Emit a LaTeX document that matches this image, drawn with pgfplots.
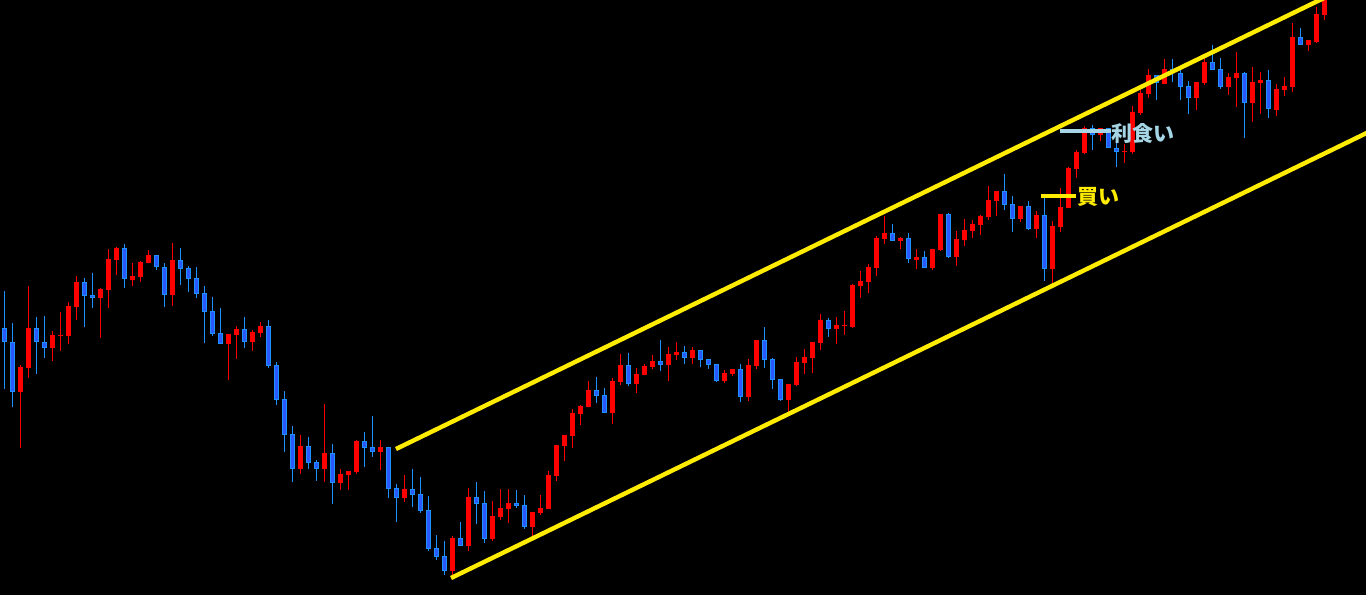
\documentclass[border=0pt]{standalone}
\usepackage{pgfplots}
\pgfplotsset{compat=1.18}
\usepackage{pgfplotstable}
\usepackage{fontspec}
\newfontfamily\cjk{Noto Sans CJK JP}
\definecolor{upred}{RGB}{255,0,0}
\definecolor{dnedge}{RGB}{30,144,255}
\definecolor{dnfill}{RGB}{40,90,255}
\definecolor{chan}{RGB}{255,236,0}
\definecolor{tp}{RGB}{166,214,230}
% columns: bar index, wick top, body top, body bottom, wick bottom (screen units, y grows downward)
\pgfplotstableread{
i wt bt bb wb
2 365 367 391.7 447.7
3 286 328.3 367.7 377.7
6 331 335 347.7 360.7
7 312 334.7 335.7 350.7
8 302 306 335.7 343.7
9 276 282 306.7 319.7
12 288 289 297.7 337.7
13 249 259 289.7 307.7
14 247 248 259.7 274.7
16 263 276 279.7 285.7
17 261 262 276.7 281.7
18 250 255 262.7 262.7
21 243 260 294.7 305.7
28 334 334 343.7 379.7
29 326 329 334.7 359
31 330 332 341.7 351
32 322 326 332.7 336.7
37 435 446 468.7 473.7
40 404 453 468.7 481.7
42 469 473.7 482.7 489.7
43 470.7 470.7 474.7 489.7
44 440 441 471.7 473.7
47 440 447 451.7 469.7
50 475 489 497.7 501.7
56 536 538 570.7 576.7
58 488 497 545.7 551
61 501 516 538.7 540.7
62 489 508 517 519.7
63 489 503 509 523
66 512 512 526.7 536.7
67 495 508 513 515
68 471 475 509 509
69 445 445 475.7 481
70 435 435 445.7 461
71 409 413 436 447.7
72 405 406 413.7 425
73 381 390 406.7 406.7
76 378 381 412.7 423.7
77 354 365 381.7 385
79 368 374 383.7 393
80 364 366 374.7 374.7
81 355 361 366.7 369
83 347 354 364.7 381
84 342 352 355 360
86 347 350 357.7 363.7
90 370 373 380.7 383
91 369 369 374 376
93 359 365 396.7 401
94 340 340 366 369
98 384 384 399.7 412.7
99 357 362 385 386
100 349 357 363 374
101 342 342 358 373
102 314 320 343 349.7
104 317 325 328.7 343.7
105 311 325 325.7 335
106 284 285 326.7 327.7
107 271 281 286 297.7
108 264 267 282 293
109 236 238 268 276
110 216 233 239 244
112 237 238 241 249
114 249 257 259.7 269
116 249 249 267.7 269.7
117 214 214 250 251
119 231 239 257 266
120 219 230 240 246
121 220 224 231 238
122 215 216 225 235
123 186 200 217 220
124 191 191 201 216
127 206 206 218.7 222
129 211 215 229 238
131 221 226 268.7 283.7
132 188 207 227 232
133 167 167.7 207.7 207.7
134 150 151.7 169 177.7
135 126 128 152.7 154
137 128 128 135 141
140 144 151 152.3 163
141 106 112 152 154
142 85.3 92.7 112.7 114.7
143 69 75 94 98
145 59 69 83.7 83.7
149 82 82 97.7 109.7
150 58 62 83 85
153 73 77 86.7 95
154 52 73 77.7 107
156 67 82 102.7 121.7
157 72 80 82.7 113.7
159 84 89 109.7 115.7
160 77 86 90 96
161 23 37 87 92
163 40 40 44.7 50.7
164 7 14 41.7 42.7
165 -5 -5 15 20
}\upbars
\pgfplotstableread{
i wt bt bb wb
0 291 328.3 342.3 389
1 323 342.3 391.7 407
4 317 328.3 342.3 373.7
5 316 342.3 347.7 357.7
10 278 282 295.7 326.7
11 273 295.3 297.7 307.7
15 244 248 279.3 287.7
19 255 255 267.3 269.7
20 263 267 294.7 306.7
22 248 260 268.7 284.7
23 266 268 278.7 291.7
24 267 278 293.7 297.7
25 286 293 311.7 342.7
26 297 311 333.7 335.7
27 308 333 343.7 343.7
30 317 329.3 341.7 347.7
33 320 326 365.7 367.7
34 362 365 399.7 404.7
35 391 399 434.7 451.7
36 426 434 468.7 481.7
38 437 446 462.7 468.7
39 460 462 468.7 480.7
41 444 453 482.7 503.7
45 432 441 447.7 466.7
46 416 447 451.7 456.7
48 446.7 447 488.7 497.7
49 483.7 488 497.7 521.7
51 469 489 494.7 506.7
52 477 494 510.7 512.7
53 496 510 548.7 550.7
54 535 548 556.7 559.7
55 541 556 570.7 575
57 522 538 545.7 545.7
59 482 497 503.7 524
60 491 503 538.7 542.7
64 490 503 505.7 507.7
65 495 505 526.7 528.7
74 377 390 395.7 403
75 388 395 412.7 412.7
78 353 365 383.7 385.7
82 340 361 364.7 371
85 346 352 357.7 363.7
87 350 350 359.7 366.7
88 359 359 364.7 368.7
89 363.7 364 380.7 382
92 364 369 396.7 401.7
95 327 340 359.7 367.7
96 358 359 379.7 389
97 379 379 399.7 400.7
103 318 320 328.7 336.7
111 224 233 240.7 240.7
113 233 238 259.3 263.3
115 251 257 267.7 267.7
118 213 214 257 258
125 174 191 204.7 209.7
126 196 204 218.7 231.7
128 201 206 229 230
130 196 215 268.7 280.7
136 125 128 135 150
138 128 128 148.3 148.3
139 143.3 148.3 152.3 167.3
144 75 75.3 83.3 100
146 59 69 73 82
147 70 73 86.7 99.7
148 81 86 97.7 113.7
151 45 62 69.7 70
152 58 69 86.7 88.7
155 72 73 102.7 137.7
158 70 80 109.3 117.7
162 28 37 44.7 44.7
}\downbars
\begin{document}
\begin{tikzpicture}
\begin{axis}[
  scale only axis, width=1366pt, height=595pt,
  xmin=-0.5375, xmax=170.21, ymin=0, ymax=595, y dir=reverse,
  axis lines=none, ticks=none,
  axis background/.style={fill=black},
  clip=true,
]
% wicks
\addplot[upred, line width=1.1pt, mark=none, forget plot,
  quiver={u=0, v=\thisrow{wb}-\thisrow{wt}}]
  table[x=i, y=wt] {\upbars};
\addplot[dnedge, line width=1.1pt, mark=none, forget plot,
  quiver={u=0, v=\thisrow{wb}-\thisrow{wt}}]
  table[x=i, y=wt] {\downbars};
% bodies
\addplot[upred, line width=4.8pt, mark=none, forget plot,
  quiver={u=0, v={max(\thisrow{bb}-\thisrow{bt},1.2)}}]
  table[x=i, y expr={(\thisrow{bt}+\thisrow{bb})/2-max(\thisrow{bb}-\thisrow{bt},1.2)/2}] {\upbars};
\addplot[dnedge, line width=4.8pt, mark=none, forget plot,
  quiver={u=0, v={max(\thisrow{bb}-\thisrow{bt},1.2)}}]
  table[x=i, y expr={(\thisrow{bt}+\thisrow{bb})/2-max(\thisrow{bb}-\thisrow{bt},1.2)/2}] {\downbars};
\addplot[dnfill, line width=2.8pt, mark=none, forget plot,
  quiver={u=0, v={max(\thisrow{bb}-\thisrow{bt}-2,0)}}]
  table[x=i, y expr={\thisrow{bt}+1}] {\downbars};
% channel lines
\addplot[chan, line width=4.4pt, forget plot] coordinates {(48.96,449) (165.7,-4.9)};
\addplot[chan, line width=4.4pt, forget plot] coordinates {(55.84,578) (170.7,131.4)};
% buy / take-profit levels
\addplot[chan, line width=4pt, forget plot] coordinates {(129.59,196.3) (133.96,196.3)};
\addplot[tp, line width=4pt, forget plot] coordinates {(131.96,131.3) (138.34,131.3)};
\node[anchor=west, inner sep=0pt, text=chan, font=\cjk\bfseries\fontsize{21}{24}\selectfont] at (axis cs:134.1,197) {買い};
\node[anchor=west, inner sep=0pt, text=tp, font=\cjk\bfseries\fontsize{21}{24}\selectfont] at (axis cs:138.4,133) {利食い};
\end{axis}
\end{tikzpicture}
\end{document}
